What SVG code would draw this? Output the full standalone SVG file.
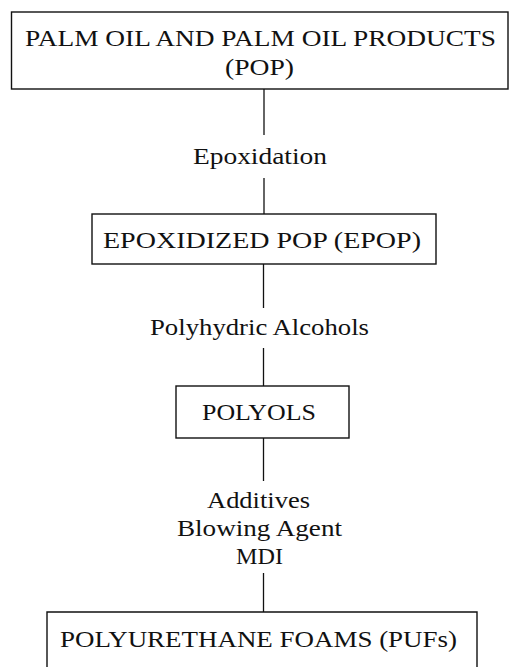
<svg xmlns="http://www.w3.org/2000/svg" width="509" height="667" viewBox="0 0 509 667">
<style>
.box{fill:none;stroke:#111;stroke-width:1.4}
.conn{stroke:#111;stroke-width:1.3;fill:none}
text{font-family:"Liberation Serif","Times New Roman",serif;font-size:24px;fill:#111;text-anchor:middle}
</style>
<rect width="509" height="667" fill="#fff"/>
<g id="connectors">
<line class="conn" x1="264" y1="89" x2="264" y2="135"/>
<line class="conn" x1="264" y1="178" x2="264" y2="214"/>
<line class="conn" x1="263.5" y1="264" x2="263.5" y2="308"/>
<line class="conn" x1="263.5" y1="348" x2="263.5" y2="386"/>
<line class="conn" x1="263.5" y1="438" x2="263.5" y2="481"/>
<line class="conn" x1="263.5" y1="573" x2="263.5" y2="612"/>
<text x="260" y="164" textLength="134" lengthAdjust="spacingAndGlyphs">Epoxidation</text>
<text x="259.5" y="335" textLength="219" lengthAdjust="spacingAndGlyphs">Polyhydric Alcohols</text>
<text x="258.5" y="508" textLength="103" lengthAdjust="spacingAndGlyphs">Additives</text>
<text x="259.5" y="536" textLength="165" lengthAdjust="spacingAndGlyphs">Blowing Agent</text>
<text x="259.5" y="564" textLength="47" lengthAdjust="spacingAndGlyphs">MDI</text>
</g>
<g id="pop">
<rect class="box" x="11.5" y="12" width="496.5" height="77"/>
<text x="260.5" y="46" textLength="471" lengthAdjust="spacingAndGlyphs">PALM OIL AND PALM OIL PRODUCTS</text>
<text x="259.5" y="75" textLength="69" lengthAdjust="spacingAndGlyphs">(POP)</text>
</g>
<g id="epop">
<rect class="box" x="92" y="214" width="344" height="50"/>
<text x="262" y="248" textLength="318" lengthAdjust="spacingAndGlyphs">EPOXIDIZED POP (EPOP)</text>
</g>
<g id="polyols">
<rect class="box" x="176" y="386" width="173" height="52"/>
<text x="259" y="420" textLength="114" lengthAdjust="spacingAndGlyphs">POLYOLS</text>
</g>
<g id="pufs">
<path class="box" d="M47,668 V612 H477 V668"/>
<text x="258.5" y="647" textLength="397" lengthAdjust="spacingAndGlyphs">POLYURETHANE FOAMS (PUFs)</text>
</g>
</svg>
